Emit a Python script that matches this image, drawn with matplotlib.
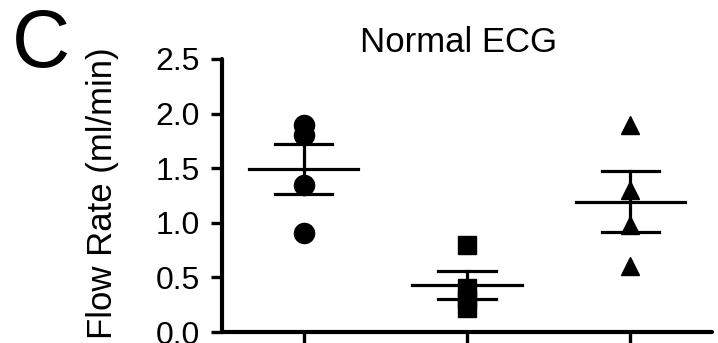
import matplotlib
matplotlib.use("Agg")
import matplotlib.pyplot as plt
import numpy as np

plt.rcParams["font.family"] = ["Liberation Sans", "DejaVu Sans"]

groups = ["g1", "g2", "g3"]
group_markers = ["o", "s", "^"]
values = [
    [1.90, 1.80, 1.35, 0.91],
    [0.80, 0.40, 0.30, 0.22],
    [1.90, 1.30, 0.98, 0.60],
]
y_ticks = [0.0, 0.5, 1.0, 1.5, 2.0, 2.5]

W, H = 718, 343
fig = plt.figure(figsize=(W / 100, H / 100), dpi=100)
ax = fig.add_axes([222 / W, 1 - 332 / H, (712 - 222) / W, (332 - 59) / H])

marker_sizes = [14.5, 12.5, 13]
for i, (vals, m, ms) in enumerate(zip(values, group_markers, marker_sizes)):
    v = np.array(vals)
    mean = v.mean()
    sem = v.std(ddof=1) / np.sqrt(len(v))
    ax.plot([i] * len(v), v, linestyle="none", marker=m, color="black",
            markersize=ms, zorder=3, clip_on=False)
    # mean line and SEM whiskers
    ax.plot([i - 0.335, i + 0.335], [mean, mean], color="black", lw=2.3, zorder=4)
    ax.plot([i - 0.175, i + 0.175], [mean + sem, mean + sem], color="black", lw=2.3, zorder=4)
    ax.plot([i - 0.175, i + 0.175], [mean - sem, mean - sem], color="black", lw=2.3, zorder=4)
    ax.plot([i, i], [mean - sem, mean + sem], color="black", lw=2.3, zorder=4)

ax.set_xlim(-0.5, 2.5)
ax.set_ylim(0, 2.5)
ax.set_yticks(y_ticks)
ax.set_yticklabels([f"{t:.1f}" for t in y_ticks])
ax.set_xticks(range(len(groups)))
ax.set_xticklabels([])

for side in ("top", "right"):
    ax.spines[side].set_visible(False)
for side in ("left", "bottom"):
    ax.spines[side].set_linewidth(3)
    ax.spines[side].set_capstyle("round")
ax.tick_params(axis="both", width=2.4, length=8, labelsize=23, pad=8)

ax.set_ylabel("Flow Rate (ml/min)", fontsize=25)
ax.yaxis.set_label_coords(-0.21, 0.51)
ax.set_title("Normal ECG", fontsize=25, pad=3, x=0.482)

fig.text(12 / W, 1 - 8 / H, "C", fontsize=58, ha="left", va="top")

fig.savefig("out.png", dpi=100)
